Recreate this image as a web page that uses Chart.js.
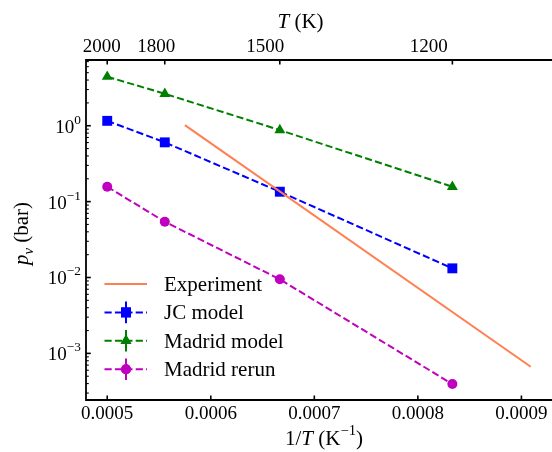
<!DOCTYPE html>
<html><head><meta charset="utf-8">
<script src="https://cdn.jsdelivr.net/npm/chart.js@4.4.1/dist/chart.umd.min.js"></script>
<style>html,body{margin:0;padding:0;overflow:hidden;background:#fff}
#wrap{position:relative;width:560px;height:452px}</style>
</head><body><div id="wrap"><canvas id="c" width="560" height="452"></canvas></div>
<script>
// ---- data ----
const invT = [0.0005, 0.0005556, 0.0006667, 0.0008333];        // 1/T for T = 2000,1800,1500,1200 K
const jcModel = [1.16, 0.604, 0.135, 0.0132];
const madridModel = [4.43, 2.64, 0.877, 0.157];
const madridRerun = [0.157, 0.0543, 0.00946, 0.000394];
const expInvT = [0.000575, 0.000909];
const experiment = [1.02, 0.000666];
const topTempTicks = [2000, 1800, 1500, 1200];
const xTicks = [0.0005, 0.0006, 0.0007, 0.0008, 0.0009];
const xTickLabels = ['0.0005', '0.0006', '0.0007', '0.0008', '0.0009'];
const yDecades = [0, -1, -2, -3];
const seriesNames = ['Experiment', 'JC model', 'Madrid model', 'Madrid rerun'];

const FONT = '"Liberation Serif", "Times New Roman", serif';
const COL = {exp: '#ff7f50', jc: '#0000ff', mad: '#008000', rer: '#bf00bf'};
const DASH = [7.2, 3.2];
const R = {rect: 7.0, triangle: 6.3, circle: 5.0};

function pts(xs, ys) { return xs.map((x, i) => ({x: x, y: ys[i]})); }

function segFont(s, size) { return (s.it ? 'italic ' : '') + size + 'px ' + FONT; }
function richWidth(ctx, segs, size) {
  let w = 0;
  for (const s of segs) { ctx.font = segFont(s, (s.sup || s.sub) ? size * 0.7 : size); w += ctx.measureText(s.t).width; }
  return w;
}
function drawRich(ctx, segs, x, y, size, align, supRaise) {
  const w = richWidth(ctx, segs, size);
  let cx = align === 'center' ? x - w / 2 : align === 'right' ? x - w : x;
  ctx.textAlign = 'left'; ctx.textBaseline = 'alphabetic';
  for (const s of segs) {
    const fs = (s.sup || s.sub) ? size * 0.7 : size;
    ctx.font = segFont(s, fs);
    const dy = s.sup ? -(supRaise || size * 0.45) : s.sub ? size * 0.22 : 0;
    ctx.fillText(s.t, cx, y + dy);
    cx += ctx.measureText(s.t).width;
  }
}

const decor = {
  id: 'decor',
  afterDraw(chart) {
    const ctx = chart.ctx, a = chart.chartArea;
    const xs = chart.scales.x, ys = chart.scales.y;
    ctx.save();
    ctx.fillStyle = '#000'; ctx.strokeStyle = '#000';
    // spines
    ctx.lineWidth = 1.8;
    ctx.beginPath();
    ctx.moveTo(a.left, a.top); ctx.lineTo(a.left, a.bottom);
    ctx.moveTo(a.left - 0.9, a.bottom); ctx.lineTo(a.right, a.bottom);
    ctx.moveTo(a.left - 0.9, a.top); ctx.lineTo(a.right, a.top);
    ctx.moveTo(a.right, a.top); ctx.lineTo(a.right, a.bottom);
    ctx.stroke();
    // bottom ticks + labels
    ctx.lineWidth = 1.6;
    xTicks.forEach((v, i) => {
      const px = xs.getPixelForValue(v);
      ctx.beginPath(); ctx.moveTo(px, a.bottom); ctx.lineTo(px, a.bottom - 4.5); ctx.stroke();
      drawRich(ctx, [{t: xTickLabels[i]}], px, 418.5, 19, 'center');
    });
    // top ticks + labels (T axis)
    topTempTicks.forEach(T => {
      const px = xs.getPixelForValue(1 / T);
      ctx.beginPath(); ctx.moveTo(px, a.top); ctx.lineTo(px, a.top + 4.5); ctx.stroke();
      drawRich(ctx, [{t: String(T)}], px * 0.948, 51.5, 19, 'center');
    });
    // left major ticks + labels
    yDecades.forEach(k => {
      const py = ys.getPixelForValue(Math.pow(10, k));
      ctx.lineWidth = 1.6;
      ctx.beginPath(); ctx.moveTo(a.left, py); ctx.lineTo(a.left + 4.8, py); ctx.stroke();
      const e = k === 0 ? '0' : '\u2212' + String(-k);
      drawRich(ctx, [{t: '10'}, {t: e, sup: true}], 81, py + 7, 19, 'right', 9);
    });
    // left minor ticks
    ctx.lineWidth = 1.1;
    for (let k = -4; k <= 0; k++) {
      for (let m = 2; m <= 9; m++) {
        const v = m * Math.pow(10, k);
        if (v < ys.min || v > ys.max) continue;
        const py = ys.getPixelForValue(v);
        ctx.beginPath(); ctx.moveTo(a.left, py); ctx.lineTo(a.left + 2.8, py); ctx.stroke();
      }
    }
    // axis titles
    drawRich(ctx, [{t: '1/'}, {t: 'T', it: true}, {t: ' (K'}, {t: '\u22121', sup: true}, {t: ')'}], 324, 445, 21, 'center', 10);
    drawRich(ctx, [{t: 'T', it: true}, {t: ' (K)'}], 300.5, 28, 21, 'center');
    ctx.save();
    ctx.translate(28, 233.5); ctx.rotate(-Math.PI / 2);
    drawRich(ctx, [{t: 'p', it: true}, {t: 'v', it: true, sub: true}, {t: ' (bar)'}], 0, 0, 21, 'center');
    ctx.restore();
    // legend
    const rows = [
      {name: seriesNames[0], col: COL.exp, dash: [], style: null},
      {name: seriesNames[1], col: COL.jc, dash: DASH, style: 'rect', r: R.rect},
      {name: seriesNames[2], col: COL.mad, dash: DASH, style: 'triangle', r: R.triangle},
      {name: seriesNames[3], col: COL.rer, dash: DASH, style: 'circle', r: R.circle}
    ];
    rows.forEach((r, i) => {
      const y = 284 + i * 28.4;
      ctx.strokeStyle = r.col; ctx.fillStyle = r.col;
      ctx.lineWidth = 2; ctx.setLineDash(r.dash);
      ctx.beginPath(); ctx.moveTo(104.5, y); ctx.lineTo(147, y); ctx.stroke();
      ctx.setLineDash([]);
      if (r.style) {
        ctx.beginPath(); ctx.moveTo(126, y - 10.8); ctx.lineTo(126, y + 10.8); ctx.stroke();
        Chart.helpers.drawPoint(ctx, {pointStyle: r.style, radius: r.r, borderWidth: 0}, 126, y);
        ctx.fill();
      }
      ctx.fillStyle = '#000';
      drawRich(ctx, [{t: r.name}], 164, y + 7, 21, 'left');
    });
    ctx.restore();
  }
};

const common = {showLine: true, borderWidth: 2, pointBorderWidth: 0, pointHoverRadius: 0};
new Chart(document.getElementById('c'), {
  type: 'scatter',
  data: {
    datasets: [
      Object.assign({}, common, {label: seriesNames[0], data: pts(expInvT, experiment), borderColor: COL.exp, backgroundColor: COL.exp, pointRadius: 0}),
      Object.assign({}, common, {label: seriesNames[1], data: pts(invT, jcModel), borderColor: COL.jc, backgroundColor: COL.jc, borderDash: DASH, pointStyle: 'rect', pointRadius: R.rect}),
      Object.assign({}, common, {label: seriesNames[2], data: pts(invT, madridModel), borderColor: COL.mad, backgroundColor: COL.mad, borderDash: DASH, pointStyle: 'triangle', pointRadius: R.triangle}),
      Object.assign({}, common, {label: seriesNames[3], data: pts(invT, madridRerun), borderColor: COL.rer, backgroundColor: COL.rer, borderDash: DASH, pointStyle: 'circle', pointRadius: R.circle})
    ]
  },
  options: {
    responsive: false, animation: false, devicePixelRatio: 1,
    layout: {padding: {left: 86, top: 60, right: 6.4, bottom: 52}},
    plugins: {legend: {display: false}, tooltip: {enabled: false}},
    scales: {
      x: {type: 'linear', min: 0.0004795, max: 0.0009305, display: false},
      y: {type: 'logarithmic', min: 2.43e-4, max: 7.35, display: false}
    }
  },
  plugins: [decor]
});
</script></body></html>
